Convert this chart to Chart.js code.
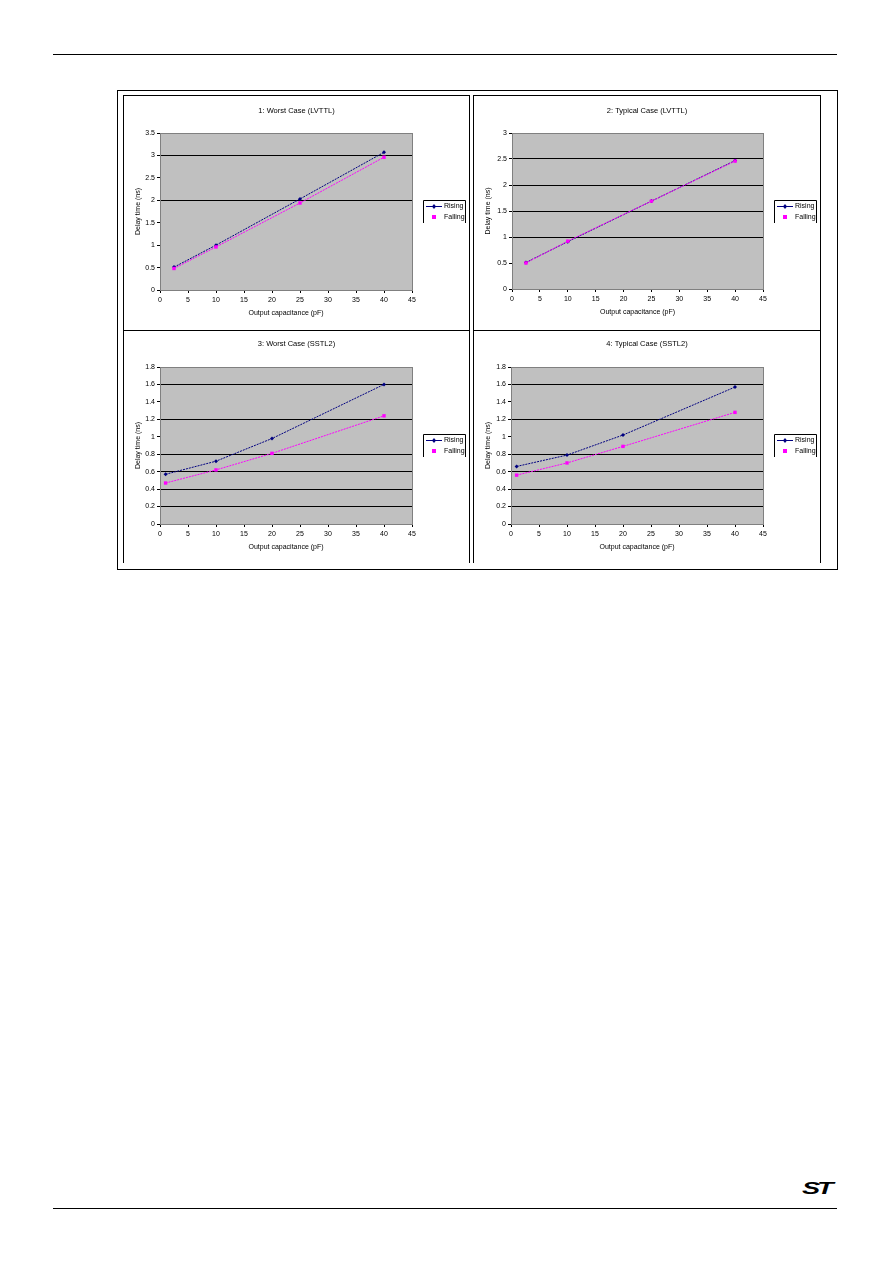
<!DOCTYPE html>
<html>
<head>
<meta charset="utf-8">
<script src="https://cdn.jsdelivr.net/npm/chart.js@4.4.1/dist/chart.umd.min.js"></script>
<style>
  body { margin: 0; background: #fff; width: 892px; height: 1263px; position: relative; font-family: "Liberation Sans", Arial, sans-serif; }
  .rule { position: absolute; left: 53px; width: 784px; height: 0; border-top: 1.5px solid #000; }
  .frame { position: absolute; left: 117px; top: 90px; width: 719px; height: 478px; border: 1px solid #000; }
  .box { position: absolute; border: 1px solid #000; border-bottom: none; }
  .box canvas { display: block; }
  .logo { position: absolute; left: 802px; top: 1179px; font: italic bold 17px "Liberation Sans", Arial, sans-serif; color: #000; letter-spacing: -2px; transform: scaleX(1.6); transform-origin: left top; }
</style>
</head>
<body>
<div class="rule" style="top:54px"></div>
<div class="frame"></div>
<div class="box" style="left:123px;top:95px;width:345px;height:235px"><canvas id="c1" width="345" height="234"></canvas></div>
<div class="box" style="left:473px;top:95px;width:346px;height:235px"><canvas id="c2" width="346" height="234"></canvas></div>
<div class="box" style="left:123px;top:330px;width:345px;height:232px"><canvas id="c3" width="345" height="231"></canvas></div>
<div class="box" style="left:473px;top:330px;width:346px;height:232px"><canvas id="c4" width="346" height="231"></canvas></div>
<div class="rule" style="top:1208px"></div>
<div class="logo">ST</div>

<script>
// valeurs
const capLvttl = [2.5, 10, 25, 40];
const capSstl = [1, 10, 20, 40];

const worstLvttlRising = [0.51, 1.00, 2.03, 3.07];
const worstLvttlFalling = [0.48, 0.96, 1.94, 2.96];
const typLvttlRising = [0.51, 0.91, 1.69, 2.47];
const typLvttlFalling = [0.50, 0.92, 1.69, 2.46];
const worstSstlRising = [0.57, 0.72, 0.98, 1.60];
const worstSstlFalling = [0.47, 0.62, 0.81, 1.24];
const typSstlRising = [0.66, 0.79, 1.02, 1.57];
const typSstlFalling = [0.56, 0.70, 0.89, 1.28];

const xTicks = [0, 5, 10, 15, 20, 25, 30, 35, 40, 45];
const yTicksWorstLvttl = [0, 0.5, 1, 1.5, 2, 2.5, 3, 3.5];
const yTicksTypLvttl = [0, 0.5, 1, 1.5, 2, 2.5, 3];
const yTicksSstl = [0, 0.2, 0.4, 0.6, 0.8, 1, 1.2, 1.4, 1.6, 1.8];

const seriesNames = ['Rising', 'Falling'];
const xTitle = 'Output capacitance (pF)';
const yTitle = 'Delay time (ns)';

const FONT = { family: '"Liberation Sans", Arial, sans-serif', size: 7 };

function pts(xs, ys) {
    return xs.map((x, i) => ({ x: x, y: ys[i] }));
}

// fond gris, bordure, titre et légende
const decor = {
    id: 'decor',
    beforeDatasetsDraw(chart) {
        const a = chart.chartArea, ctx = chart.ctx;
        ctx.save();
        ctx.strokeStyle = '#808080';
        ctx.lineWidth = 1;
        ctx.strokeRect(a.left + 0.5, a.top + 0.5, a.right - a.left, a.bottom - a.top);
        ctx.restore();
    },
    beforeDraw(chart) {
        const a = chart.chartArea, ctx = chart.ctx;
        ctx.save();
        ctx.fillStyle = '#c0c0c0';
        ctx.fillRect(a.left, a.top, a.right - a.left, a.bottom - a.top);
        ctx.restore();
    },
    afterDraw(chart) {
        const o = chart.options.plugins.decor, ctx = chart.ctx;
        ctx.save();
        ctx.fillStyle = '#000';
        ctx.font = '7.5px "Liberation Sans", Arial, sans-serif';
        ctx.textAlign = 'center';
        ctx.textBaseline = 'middle';
        ctx.fillText(o.title, chart.width / 2, o.titleY);

        const L = o.legend;
        ctx.font = '7px "Liberation Sans", Arial, sans-serif';
        ctx.strokeStyle = '#000';
        ctx.lineWidth = 1;
        ctx.beginPath();
        ctx.moveTo(L.x + 0.5, L.y + L.h);
        ctx.lineTo(L.x + 0.5, L.y + 0.5);
        ctx.lineTo(L.x + L.w + 0.5, L.y + 0.5);
        ctx.lineTo(L.x + L.w + 0.5, L.y + L.h);
        ctx.stroke();

        ctx.textAlign = 'left';
        chart.data.datasets.forEach((ds, i) => {
            const y = L.y + 6 + i * 11;
            if (i === 0) {
                ctx.strokeStyle = ds.borderColor;
                ctx.beginPath();
                ctx.moveTo(L.x + 3, y + 0.5);
                ctx.lineTo(L.x + 19, y + 0.5);
                ctx.stroke();
                ctx.fillStyle = ds.borderColor;
                ctx.beginPath();
                ctx.moveTo(L.x + 11, y - 2); ctx.lineTo(L.x + 13, y + 0.5);
                ctx.lineTo(L.x + 11, y + 3); ctx.lineTo(L.x + 9, y + 0.5);
                ctx.fill();
            } else {
                ctx.fillStyle = ds.pointBackgroundColor;
                ctx.fillRect(L.x + 9, y - 2, 4, 4);
            }
            ctx.fillStyle = '#000';
            ctx.fillText(ds.label, L.x + 21, y + 0.5);
        });
        ctx.restore();
    }
};

function makeChart(id, title, xs, rising, falling, yTicks, gridVals, g) {
    const canvas = document.getElementById(id);
    const ymax = yTicks[yTicks.length - 1];
    const xAxisH = 27;
    const onGrid = v => gridVals.some(t => Math.abs(t - v) < 1e-6);
    return new Chart(canvas.getContext('2d'), {
        type: 'line',
        data: {
            datasets: [{
                label: seriesNames[0],
                data: pts(xs, rising),
                order: 2,
                borderColor: '#000080',
                backgroundColor: '#000080',
                pointBackgroundColor: '#000080',
                borderWidth: 1,
                borderDash: [2, 1],
                pointStyle: 'rectRot',
                pointRadius: 2,
                pointBorderWidth: 0
            }, {
                label: seriesNames[1],
                data: pts(xs, falling),
                order: 1,
                borderColor: '#ff00ff',
                backgroundColor: '#ff00ff',
                pointBackgroundColor: '#ff00ff',
                borderWidth: 1,
                borderDash: [2, 1],
                pointStyle: 'rect',
                pointRadius: 2.4,
                pointBorderWidth: 0
            }]
        },
        options: {
            responsive: false,
            animation: false,
            layout: { padding: { left: 0, top: g.top, right: canvas.width - g.right, bottom: canvas.height - g.bottom - xAxisH } },
            plugins: {
                legend: { display: false },
                tooltip: { enabled: false },
                decor: { title: title, titleY: g.titleY, legend: g.legend }
            },
            scales: {
                x: {
                    type: 'linear', min: 0, max: 45,
                    afterBuildTicks: ax => { ax.ticks = xTicks.map(v => ({ value: v })); },
                    afterFit: ax => { ax.height = xAxisH; },
                    grid: { display: true, drawOnChartArea: false, tickLength: 3, color: '#000', tickColor: '#000' },
                    border: { display: false },
                    ticks: { font: FONT, color: '#000', padding: 3, maxRotation: 0, autoSkip: false },
                    title: { display: true, text: xTitle, font: FONT, color: '#000', padding: { top: 2, bottom: 0 } }
                },
                y: {
                    type: 'linear', min: 0, max: ymax,
                    afterBuildTicks: ax => { ax.ticks = yTicks.map(v => ({ value: v })); },
                    afterFit: ax => { ax.width = g.left; },
                    grid: {
                        tickLength: 3,
                        tickColor: '#000',
                        lineWidth: 1,
                        color: c => (c.tick && onGrid(c.tick.value)) ? '#000' : 'rgba(0,0,0,0)'
                    },
                    border: { display: false },
                    ticks: {
                        font: FONT, color: '#000', padding: 2, autoSkip: false,
                        callback: v => String(Math.round(v * 10) / 10)
                    },
                    title: { display: true, text: yTitle, font: FONT, color: '#000', padding: { top: 10, bottom: 2 } }
                }
            }
        },
        plugins: [decor]
    });
}

makeChart('c1', '1: Worst Case (LVTTL)', capLvttl, worstLvttlRising, worstLvttlFalling,
    yTicksWorstLvttl, [2, 3],
    { left: 36, right: 288, top: 37, bottom: 194, titleY: 15, legend: { x: 299, y: 104, w: 42, h: 23 } });

makeChart('c2', '2: Typical Case (LVTTL)', capLvttl, typLvttlRising, typLvttlFalling,
    yTicksTypLvttl, [1, 1.5, 2, 2.5],
    { left: 38, right: 289, top: 37, bottom: 193, titleY: 15, legend: { x: 300, y: 104, w: 42, h: 23 } });

makeChart('c3', '3: Worst Case (SSTL2)', capSstl, worstSstlRising, worstSstlFalling,
    yTicksSstl, [0.2, 0.4, 0.6, 0.8, 1.2, 1.6],
    { left: 36, right: 288, top: 36, bottom: 193, titleY: 13, legend: { x: 299, y: 103, w: 42, h: 23 } });

makeChart('c4', '4: Typical Case (SSTL2)', capSstl, typSstlRising, typSstlFalling,
    yTicksSstl, [0.2, 0.4, 0.6, 0.8, 1.2, 1.6],
    { left: 37, right: 289, top: 36, bottom: 193, titleY: 13, legend: { x: 300, y: 103, w: 42, h: 23 } });
</script>
</body>
</html>
